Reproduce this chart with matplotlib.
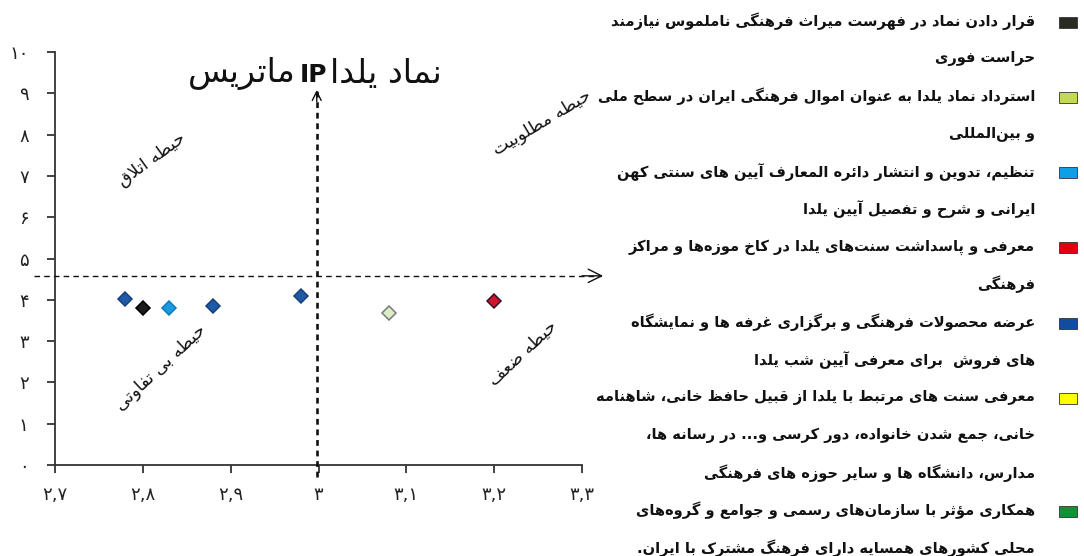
import re
import matplotlib
matplotlib.use("Agg")
import matplotlib.pyplot as plt
from matplotlib.patches import Rectangle

plt.rcParams["font.family"] = ["DejaVu Sans"]

# ---- data ----
x_vals = [2.80, 3.08, 2.83, 3.20, 2.98, 2.88, 2.78]
y_vals = [3.80, 3.67, 3.80, 3.97, 4.08, 3.84, 4.03]

legend_colors = ["#2a2a22", "#c5d957", "#0f9fe6", "#e0000f", "#0f4d9e", "#ffff00", "#119236"]
marker_faces = ["#1c1c1c", "#dcecc8", "#1a9be0", "#d0142a", "#1f5aa8", "#1f5aa8", "#1f5aa8"]
marker_edges = ["#000000", "#7a7a7a", "#1479b8", "#3a1030", "#173f7a", "#173f7a", "#173f7a"]

legend_lines = [
    ["قرار دادن نماد در فهرست میراث فرهنگی ناملموس نیازمند", "حراست فوری"],
    ["استرداد نماد یلدا به عنوان اموال فرهنگی ایران در سطح ملی", "و بین‌المللی"],
    ["تنظیم، تدوین و انتشار دائره المعارف آیین های سنتی کهن", "ایرانی و شرح و تفصیل آیین یلدا"],
    ["معرفی و پاسداشت سنت‌های یلدا در کاخ موزه‌ها و مراکز", "فرهنگی"],
    ["عرضه محصولات فرهنگی و برگزاری غرفه ها و نمایشگاه", "های فروش  برای معرفی آیین شب یلدا"],
    ["معرفی سنت های مرتبط با یلدا از قبیل حافظ خانی، شاهنامه",
     "خانی، جمع شدن خانواده، دور کرسی و... در رسانه ها،",
     "مدارس، دانشگاه ها و سایر حوزه های فرهنگی"],
    ["همکاری مؤثر با سازمان‌های رسمی و جوامع و گروه‌های", "محلی کشورهای همسایه دارای فرهنگ مشترک با ایران."],
]

title_parts = ["ماتریس", "IP", "نماد یلدا"]
zone_labels = ["حیطه اتلاق", "حیطه مطلوبیت", "حیطه بی تفاوتی", "حیطه ضعف"]

x_ticks = [2.7, 2.8, 2.9, 3.0, 3.1, 3.2, 3.3]
x_ticklabels = ["۲,۷", "۲,۸", "۲,۹", "۳", "۳,۱", "۳,۲", "۳,۳"]
y_ticks = list(range(11))
y_ticklabels = ["۰", "۱", "۲", "۳", "۴", "۵", "۶", "۷", "۸", "۹", "۱۰"]

h_split = 4.58
v_split = 2.998

# ---- tiny arabic shaper (matplotlib has no complex text layout) ----
DUAL = {"ئ": 0xFE89, "ب": 0xFE8F, "ت": 0xFE95, "ث": 0xFE99, "ج": 0xFE9D, "ح": 0xFEA1,
        "خ": 0xFEA5, "س": 0xFEB1, "ش": 0xFEB5, "ص": 0xFEB9, "ض": 0xFEBD, "ط": 0xFEC1,
        "ظ": 0xFEC5, "ع": 0xFEC9, "غ": 0xFECD, "ف": 0xFED1, "ق": 0xFED5, "ك": 0xFED9,
        "ل": 0xFEDD, "م": 0xFEE1, "ن": 0xFEE5, "ه": 0xFEE9, "ي": 0xFEF1, "پ": 0xFB56,
        "چ": 0xFB7A, "ک": 0xFB8E, "گ": 0xFB92, "ی": 0xFBFC}
RIGHT = {"آ": 0xFE81, "أ": 0xFE83, "ؤ": 0xFE85, "إ": 0xFE87, "ا": 0xFE8D, "ة": 0xFE93,
         "د": 0xFEA9, "ذ": 0xFEAB, "ر": 0xFEAD, "ز": 0xFEAF, "و": 0xFEED, "ژ": 0xFB8A}
LAM_ALEF = {"ا": 0xFEFB, "آ": 0xFEF5, "أ": 0xFEF7, "إ": 0xFEF9}


def shape(s):
    out = []
    i = 0
    while i < len(s):
        c = s[i]
        prev = s[i - 1] if i > 0 else ""
        nxt = s[i + 1] if i + 1 < len(s) else ""
        join_prev = prev in DUAL
        if c == "\u200c":
            i += 1
            continue
        if c == "ل" and nxt in LAM_ALEF:
            out.append(chr(LAM_ALEF[nxt] + join_prev))
            i += 2
            continue
        if c in DUAL:
            join_next = nxt in DUAL or nxt in RIGHT
            form = 3 if (join_prev and join_next) else 2 if join_next else 1 if join_prev else 0
            out.append(chr(DUAL[c] + form))
        elif c in RIGHT:
            out.append(chr(RIGHT[c] + join_prev))
        else:
            out.append(c)
        i += 1
    return "".join(out)


def rtl(s):
    parts = re.split(r"([A-Za-z0-9]+)", shape(s))
    return "".join(p if re.fullmatch(r"[A-Za-z0-9]+", p) else p[::-1] for p in reversed(parts))


# ---- figure ----
W, H = 1084, 556
fig = plt.figure(figsize=(W / 100, H / 100), dpi=100)
ax = fig.add_axes([55 / W, 1 - 465 / H, (582 - 55) / W, (465 - 52) / H])

for i in range(len(x_vals)):
    ax.plot(x_vals[i], y_vals[i], marker="D", markersize=7.5, linestyle="none",
            markerfacecolor=marker_faces[i], markeredgecolor=marker_edges[i],
            markeredgewidth=1.1, zorder=5, clip_on=False)

ax.set_xlim(2.7, 3.3)
ax.set_ylim(0, 10)
ax.set_xticks(x_ticks)
ax.set_xticklabels(x_ticklabels, fontsize=13)
ax.set_yticks(y_ticks)
ax.set_yticklabels(y_ticklabels, fontsize=13)
ax.tick_params(axis="x", direction="out", length=6, width=1.2, pad=9, colors="#222222")
ax.tick_params(axis="y", direction="out", length=6, width=1.2, pad=13, colors="#222222")
for side in ["top", "right"]:
    ax.spines[side].set_visible(False)
for side in ["left", "bottom"]:
    ax.spines[side].set_linewidth(1.3)
    ax.spines[side].set_color("#333333")

# quadrant dividers: dashed lines with solid open arrow heads
ax.plot([2.676, 3.322], [h_split, h_split], color="#111111", lw=1.0,
        dashes=(4, 3), clip_on=False, zorder=3)
ax.annotate("", xy=(3.324, h_split), xytext=(3.30, h_split),
            arrowprops=dict(arrowstyle="->", lw=1.0, color="#111111",
                            mutation_scale=24, shrinkA=0, shrinkB=0),
            annotation_clip=False)
ax.plot([v_split, v_split], [-0.3, 9.05], color="#111111", lw=1.9,
        dashes=(2.2, 1.8), clip_on=False, zorder=3)
ax.annotate("", xy=(v_split, 9.08), xytext=(v_split, 8.8),
            arrowprops=dict(arrowstyle="->", lw=1.0, color="#111111",
                            mutation_scale=16, shrinkA=0, shrinkB=0),
            annotation_clip=False)

# title (IP in bold)
ty = 1 - 73 / H
fig.text(296 / W, ty, rtl(title_parts[0]), ha="right", va="center", fontsize=24, color="#111111")
fig.text(313 / W, ty - 2 / H, title_parts[1], ha="center", va="center", fontsize=18,
         fontweight="bold", color="#111111")
fig.text(330 / W, ty, rtl(title_parts[2]), ha="left", va="center", fontsize=24, color="#111111")

# zone labels
zone_pos = [(2.81, 7.4, 36), (3.255, 8.3, 31), (2.82, 2.35, 43), (3.232, 2.7, 43)]
for lab, (zx, zy, rot) in zip(zone_labels, zone_pos):
    ax.text(zx, zy, rtl(lab), rotation=rot, ha="center", va="center",
            fontsize=12.5, color="#111111", rotation_mode="anchor")

# legend block on the right
line_step = 37.64
row = 0
for color, lines in zip(legend_colors, legend_lines):
    ytop = 22 + line_step * row
    fig.patches.append(Rectangle((1059 / W, 1 - (ytop + 5.5) / H), 18 / W, 11 / H,
                                 transform=fig.transFigure, facecolor=color,
                                 edgecolor="#333333", linewidth=0.6))
    for ln in lines:
        fig.text(1035 / W, 1 - (21 + line_step * row) / H, rtl(ln), ha="right", va="center",
                 fontsize=10.5, fontweight="bold", color="#111111")
        row += 1

fig.savefig("out.png", dpi=100, facecolor="white")
